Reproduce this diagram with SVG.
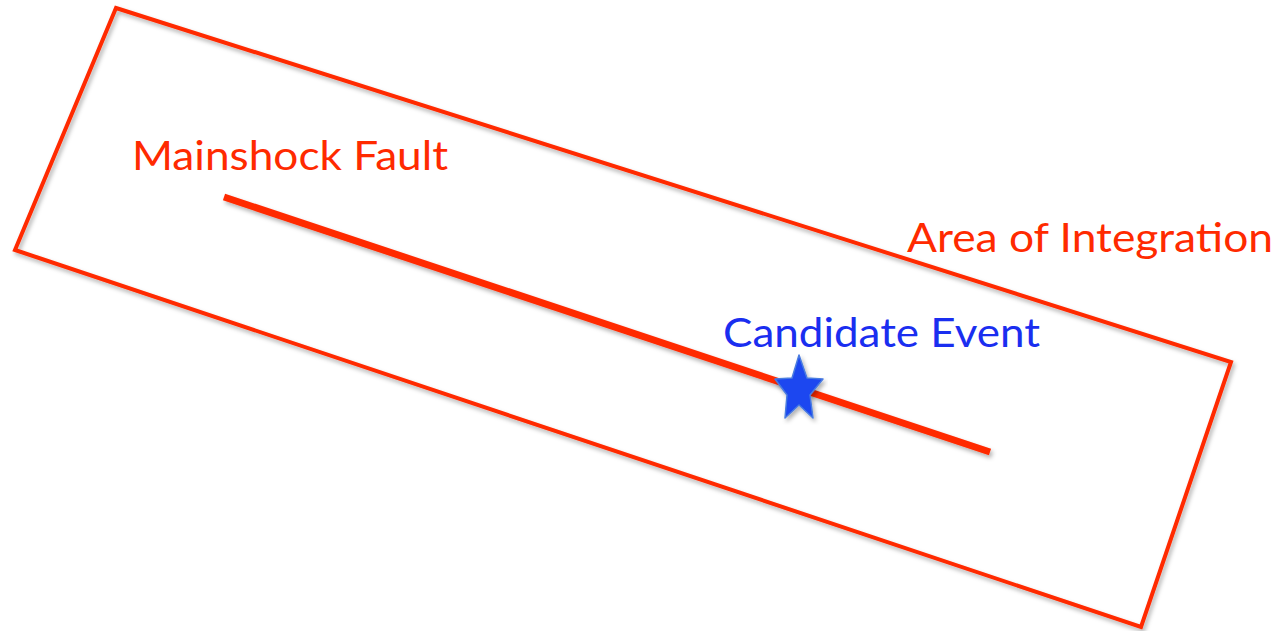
<svg xmlns="http://www.w3.org/2000/svg" width="1279" height="631" viewBox="0 0 1279 631">
<style>
.lbl{font-family:Lato,"Open Sans",sans-serif;font-size:40px;}
.red{fill:#ff2a00;}
.blue{fill:#1a2ef0;}
</style>
<defs>
<filter id="sh" x="-10%" y="-10%" width="120%" height="120%">
<feDropShadow dx="2" dy="3" stdDeviation="2" flood-color="#000" flood-opacity="0.3"/>
</filter>
</defs>
<rect width="1279" height="631" fill="#fff"/>
<g id="area" filter="url(#sh)">
<polygon points="116,8 1231,362 1141,627 15,250" fill="none" stroke="#ff2a00" stroke-width="4" stroke-linejoin="miter"/>
</g>
<g id="connectors">
<line id="fault" x1="224" y1="197" x2="990" y2="452" stroke="#ff2a00" stroke-width="7" filter="url(#sh)"/>
</g>
<g id="star" filter="url(#sh)">
<polygon points="799,355 807,378 823,379 810,395 813,418 799,405 785,418 787,395 775,379 792,378" fill="#1a47f0" stroke="#4a7be0" stroke-width="1.5" stroke-linejoin="round"/>
</g>
<g id="labels">
<text class="lbl red" x="132" y="170" textLength="316" lengthAdjust="spacingAndGlyphs">Mainshock Fault</text>
<text class="lbl red" x="907" y="252" textLength="366" lengthAdjust="spacingAndGlyphs">Area of Integration</text>
<text class="lbl blue" x="723" y="347" textLength="317" lengthAdjust="spacingAndGlyphs">Candidate Event</text>
</g>
</svg>
